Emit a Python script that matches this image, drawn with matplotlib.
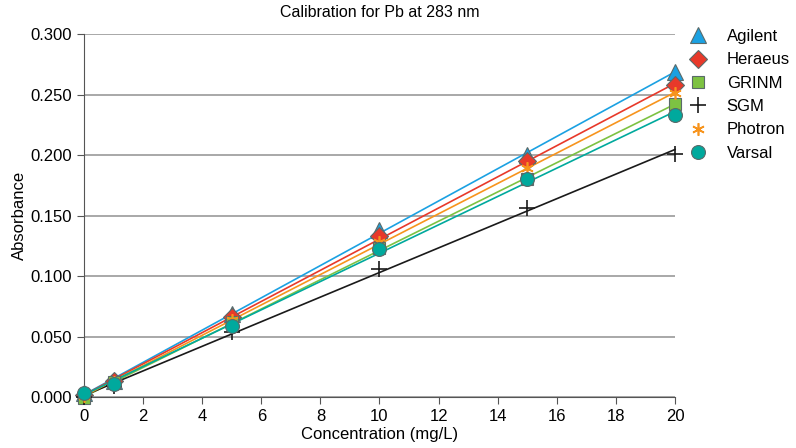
import numpy as np
import matplotlib.pyplot as plt

plt.rcParams['font.family'] = ['Liberation Sans', 'DejaVu Sans']

# Pb 283 nm calibration standards
conc = [0, 1, 5, 10, 15, 20]
agilent = [0.003, 0.013, 0.069, 0.138, 0.200, 0.269]
heraeus = [0.002, 0.013, 0.066, 0.133, 0.195, 0.258]
grinm = [-0.001, 0.012, 0.062, 0.123, 0.180, 0.242]
sgm = [0.000, 0.009, 0.054, 0.106, 0.156, 0.201]
photron = [0.001, 0.012, 0.064, 0.128, 0.189, 0.251]
varsal = [0.003, 0.011, 0.059, 0.122, 0.180, 0.233]

series = [
    ('Agilent', agilent, '#1ba1e2', '^', 11),
    ('Heraeus', heraeus, '#e8392a', 'D', 9),
    ('GRINM', grinm, '#7dc242', 's', 9),
    ('SGM', sgm, '#1a1a1a', '+', 11),
    ('Photron', photron, '#f7941d', (6, 2, 0), 9),
    ('Varsal', varsal, '#00a99d', 'o', 10),
]

fig = plt.figure(figsize=(7.96, 4.48), dpi=100)
ax = fig.add_axes([0.1055, 0.1138, 0.7425, 0.8102])

x = np.array(conc)
xf = np.array([0, 20])
for name, y, col, mk, ms in series:
    # linear fit through the standards
    m, b = np.polyfit(x, y, 1)
    ax.plot(xf, m * xf + b, color=col, lw=1.2, zorder=2)

for name, y, col, mk, ms in series:
    if mk in ('+', (6, 2, 0)):
        ax.plot(x, y, ls='none', marker=mk, color=col, ms=ms, mew=1.2,
                label=name, zorder=3)
    else:
        ax.plot(x, y, ls='none', marker=mk, color=col, ms=ms,
                mec='#5a6a6a', mew=0.8, label=name, zorder=3)

ax.set_xlim(0, 20)
ax.set_ylim(0, 0.3)
ax.set_xticks(np.arange(0, 21, 2))
ax.set_yticks(np.arange(0, 0.31, 0.05))
ax.set_yticklabels(['%.3f' % v for v in np.arange(0, 0.31, 0.05)])
ax.grid(axis='y', color='#9a9a9a', lw=1.2)
ax.set_axisbelow(True)
for s in ('top', 'right'):
    ax.spines[s].set_visible(False)
for s in ('left', 'bottom'):
    ax.spines[s].set_color('#555555')
ax.tick_params(labelsize=12, color='#555555', length=5)
for ln in ax.lines:
    ln.set_clip_on(False)

ax.set_title('Calibration for Pb at 283 nm', fontsize=11.5, pad=12)
ax.set_xlabel('Concentration (mg/L)', fontsize=12, labelpad=2)
ax.set_ylabel('Absorbance', fontsize=12)
ax.yaxis.set_label_coords(-0.0965, 0.5)

ax.legend(loc='upper left', bbox_to_anchor=(1.0, 1.055), frameon=False,
          fontsize=12, handlelength=1.0, handletextpad=1.2,
          labelspacing=0.5)

fig.savefig('out.png', dpi=100)
